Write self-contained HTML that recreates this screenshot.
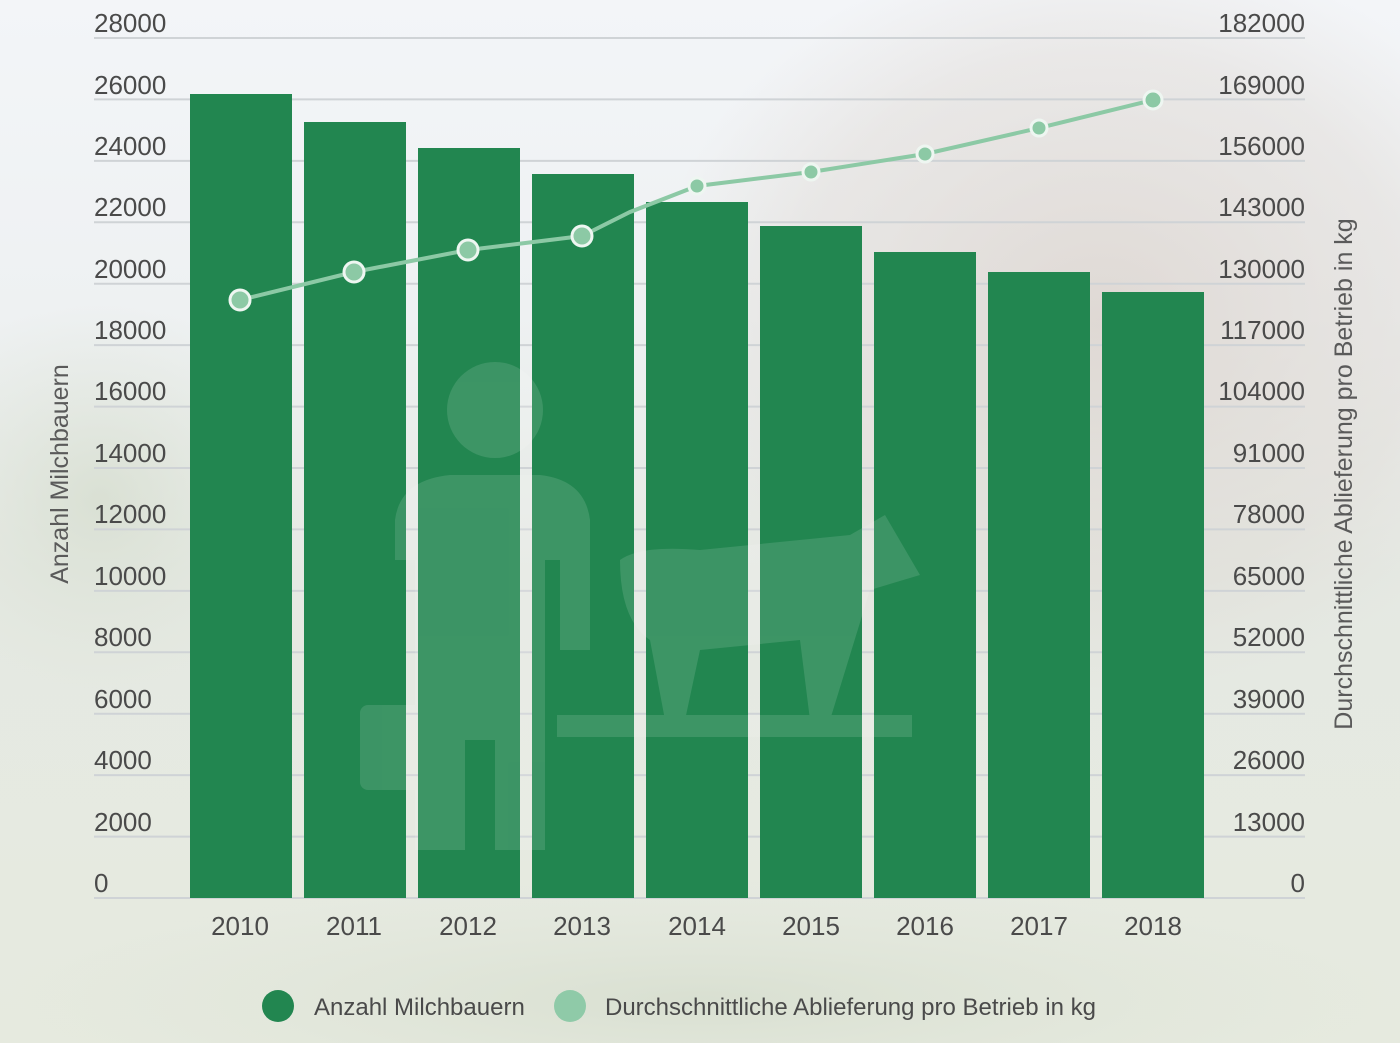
<!DOCTYPE html>
<html><head><meta charset="utf-8"><style>
html,body{margin:0;padding:0;width:1400px;height:1043px;overflow:hidden;}
svg{display:block;position:absolute;left:0;top:0;font-family:"Liberation Sans",sans-serif;}
</style></head><body>
<svg width="1400" height="1043" viewBox="0 0 1400 1043" xmlns="http://www.w3.org/2000/svg">
<defs>
<linearGradient id="bg" x1="0" y1="0" x2="0" y2="1">
<stop offset="0" stop-color="#f3f5f8"/><stop offset="0.3" stop-color="#eef1f2"/>
<stop offset="0.55" stop-color="#e5e9e3"/><stop offset="1" stop-color="#e6eadf"/>
</linearGradient>
<radialGradient id="cow" cx="0.5" cy="0.5" r="0.5">
<stop offset="0" stop-color="#d8cec7" stop-opacity="0.7"/><stop offset="0.7" stop-color="#ddd6d0" stop-opacity="0.4"/><stop offset="1" stop-color="#e0dad5" stop-opacity="0"/>
</radialGradient>
<radialGradient id="grass" cx="0.5" cy="0.5" r="0.5">
<stop offset="0" stop-color="#d3dbcb" stop-opacity="0.7"/><stop offset="1" stop-color="#dde3d6" stop-opacity="0"/>
</radialGradient>
</defs>
<rect width="1400" height="1043" fill="url(#bg)"/>
<ellipse cx="1100" cy="320" rx="450" ry="380" fill="url(#cow)"/>
<ellipse cx="100" cy="500" rx="200" ry="200" fill="url(#grass)"/>
<ellipse cx="700" cy="1000" rx="700" ry="120" fill="url(#grass)"/>
<g stroke="#cfd3d6" stroke-width="2">
<line x1="94" y1="38" x2="1305" y2="38"/><line x1="94" y1="99.4" x2="1305" y2="99.4"/>
<line x1="94" y1="160.9" x2="1305" y2="160.9"/><line x1="94" y1="222.3" x2="1305" y2="222.3"/>
<line x1="94" y1="283.7" x2="1305" y2="283.7"/><line x1="94" y1="345.1" x2="1305" y2="345.1"/>
<line x1="94" y1="406.6" x2="1305" y2="406.6"/><line x1="94" y1="468" x2="1305" y2="468"/>
<line x1="94" y1="529.4" x2="1305" y2="529.4"/><line x1="94" y1="590.9" x2="1305" y2="590.9"/>
<line x1="94" y1="652.3" x2="1305" y2="652.3"/><line x1="94" y1="713.7" x2="1305" y2="713.7"/>
<line x1="94" y1="775.1" x2="1305" y2="775.1"/><line x1="94" y1="836.6" x2="1305" y2="836.6"/>
<line x1="94" y1="898" x2="1305" y2="898"/>
</g>
<g fill="#228650">
<rect x="190" y="94" width="102" height="804"/><rect x="304" y="122" width="102" height="776"/>
<rect x="418" y="148" width="102" height="750"/><rect x="532" y="174" width="102" height="724"/>
<rect x="646" y="202" width="102" height="696"/><rect x="760" y="226" width="102" height="672"/>
<rect x="874" y="252" width="102" height="646"/><rect x="988" y="272" width="102" height="626"/>
<rect x="1102" y="292" width="102" height="606"/>
</g>
<g fill="#ffffff" opacity="0.12">
<circle cx="495" cy="410" r="48"/>
<path d="M395 520 Q400 480 450 475 L540 475 Q585 480 590 520 L590 650 L560 650 L560 560 L545 560 L545 850 L495 850 L495 740 L465 740 L465 850 L415 850 L415 560 L395 560 Z"/>
<rect x="360" y="705" width="90" height="85" rx="8"/>
<path d="M620 560 Q640 545 700 550 L850 535 L885 515 L920 575 L870 590 L830 720 L810 720 L800 640 L700 650 L685 720 L665 720 L650 640 Q620 620 620 560Z"/>
<rect x="557" y="715" width="355" height="22"/>
</g>
<polyline fill="none" stroke="#8cc9a5" stroke-width="4" points="240,300 354,272 468,250 582,236 630,212 697,186 811,172 925,154 1039,128 1153,100"/>
<g fill="#8cc9a5" stroke="#eef6f1" stroke-width="3">
<circle cx="240" cy="300" r="10"/><circle cx="354" cy="272" r="10"/><circle cx="468" cy="250" r="10"/><circle cx="582" cy="236" r="10"/>
<circle cx="697" cy="186" r="8"/><circle cx="811" cy="172" r="8"/><circle cx="925" cy="154" r="8"/><circle cx="1039" cy="128" r="8"/><circle cx="1153" cy="100" r="9"/>
</g>
<g fill="#4a4a4a" font-size="26">
<text x="94" y="32">28000</text><text x="94" y="94">26000</text><text x="94" y="155">24000</text>
<text x="94" y="216">22000</text><text x="94" y="278">20000</text><text x="94" y="339">18000</text>
<text x="94" y="400">16000</text><text x="94" y="462">14000</text><text x="94" y="523">12000</text>
<text x="94" y="585">10000</text><text x="94" y="646">8000</text><text x="94" y="708">6000</text>
<text x="94" y="769">4000</text><text x="94" y="831">2000</text><text x="94" y="892">0</text>
</g>
<g fill="#4a4a4a" font-size="26" text-anchor="end">
<text x="1305" y="32">182000</text><text x="1305" y="94">169000</text><text x="1305" y="155">156000</text>
<text x="1305" y="216">143000</text><text x="1305" y="278">130000</text><text x="1305" y="339">117000</text>
<text x="1305" y="400">104000</text><text x="1305" y="462">91000</text><text x="1305" y="523">78000</text>
<text x="1305" y="585">65000</text><text x="1305" y="646">52000</text><text x="1305" y="708">39000</text>
<text x="1305" y="769">26000</text><text x="1305" y="831">13000</text><text x="1305" y="892">0</text>
</g>
<g fill="#4a4a4a" font-size="26" text-anchor="middle">
<text x="240" y="935">2010</text><text x="354" y="935">2011</text><text x="468" y="935">2012</text>
<text x="582" y="935">2013</text><text x="697" y="935">2014</text><text x="811" y="935">2015</text>
<text x="925" y="935">2016</text><text x="1039" y="935">2017</text><text x="1153" y="935">2018</text>
</g>
<text transform="translate(68,474) rotate(-90)" text-anchor="middle" fill="#5a5a5a" font-size="25">Anzahl Milchbauern</text>
<text transform="translate(1352,474) rotate(-90)" text-anchor="middle" fill="#5a5a5a" font-size="25">Durchschnittliche Ablieferung pro Betrieb in kg</text>
<circle cx="278" cy="1006" r="16" fill="#228650"/>
<text x="314" y="1015" fill="#4a4a4a" font-size="24">Anzahl Milchbauern</text>
<circle cx="570" cy="1006" r="16" fill="#8fcaa8"/>
<text x="605" y="1015" fill="#4a4a4a" font-size="24">Durchschnittliche Ablieferung pro Betrieb in kg</text>
</svg>
</body></html>
